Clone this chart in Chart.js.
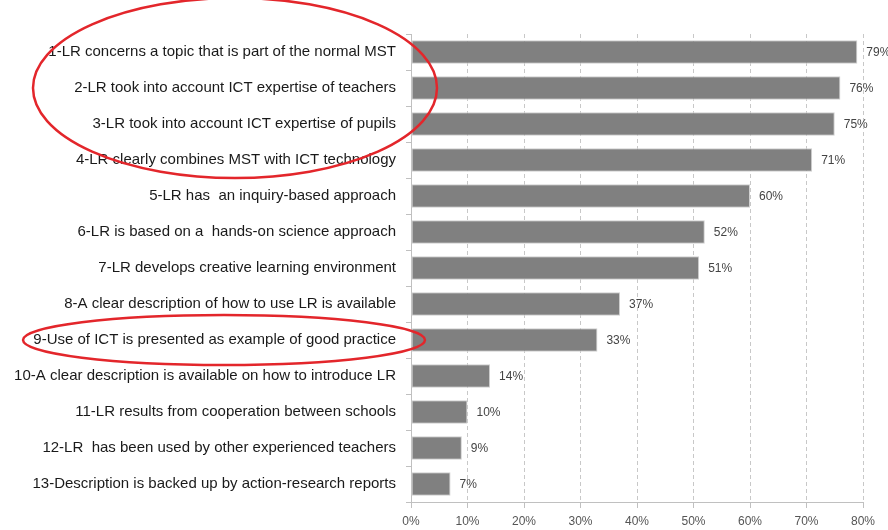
<!DOCTYPE html>
<html>
<head>
<meta charset="utf-8">
<script src="https://cdn.jsdelivr.net/npm/chart.js@4/dist/chart.umd.min.js"></script>
<style>
  body { margin: 0; background: #fff; }
  #wrap { width: 888px; height: 530px; position: relative; }
</style>
</head>
<body>
<div id="wrap"><canvas id="criteriaChart"></canvas></div>
<script>
// criteria (labels) and share of learning resources meeting them
const categories = [
    '1-LR concerns a topic that is part of the normal MST',
    '2-LR took into account ICT expertise of teachers',
    '3-LR took into account ICT expertise of pupils',
    '4-LR clearly combines MST with ICT technology',
    '5-LR has  an inquiry-based approach',
    '6-LR is based on a  hands-on science approach',
    '7-LR develops creative learning environment',
    '8-A clear description of how to use LR is available',
    '9-Use of ICT is presented as example of good practice',
    '10-A clear description is available on how to introduce LR',
    '11-LR results from cooperation between schools',
    '12-LR  has been used by other experienced teachers',
    '13-Description is backed up by action-research reports'
];
const percentages = [79, 76, 75, 71, 60, 52, 51, 37, 33, 14, 10, 9, 7];
const axisMax = 80;
const axisStep = 10;
// rows circled in red on the original: [centre row, half height, shift left of axis, half width]
const circledRows = [[1, 90, 176, 202], [8, 25, 187, 201]];

// draws "79%" etc. right of each bar
const valueLabels = {
    id: 'valueLabels',
    afterDatasetsDraw(chart) {
        const ctx = chart.ctx;
        const meta = chart.getDatasetMeta(0);
        ctx.save();
        ctx.font = '12px "Liberation Sans", Arial, sans-serif';
        ctx.fillStyle = '#444';
        ctx.textAlign = 'left';
        ctx.textBaseline = 'middle';
        meta.data.forEach((bar, i) => {
            ctx.fillText(percentages[i] + '%', bar.x + 9, bar.y + 1);
        });
        ctx.restore();
    }
};

// red hand-drawn ellipses around the highlighted criteria
const redCircles = {
    id: 'redCircles',
    afterDraw(chart) {
        const ctx = chart.ctx;
        const y = chart.scales.y;
        const left = chart.chartArea.left;
        ctx.save();
        ctx.strokeStyle = '#e3262b';
        ctx.lineWidth = 2.5;
        circledRows.forEach(([row, ry, shift, rx]) => {
            ctx.beginPath();
            ctx.ellipse(left - shift, y.getPixelForValue(row), rx, ry, 0, 0, Math.PI * 2);
            ctx.stroke();
        });
        ctx.restore();
    }
};

const ctx = document.getElementById('criteriaChart').getContext('2d');
new Chart(ctx, {
    type: 'bar',
    data: {
        labels: categories,
        datasets: [{
            data: percentages,
            backgroundColor: '#808080',
            borderColor: '#d0d0d0',
            borderWidth: 1,
            borderSkipped: false,
            barPercentage: 0.65,
            categoryPercentage: 1
        }]
    },
    options: {
        indexAxis: 'y',
        responsive: true,
        maintainAspectRatio: false,
        animation: false,
        layout: { padding: { top: 34, right: 25, bottom: 0, left: 0 } },
        plugins: {
            legend: { display: false },
            tooltip: { enabled: false }
        },
        scales: {
            x: {
                min: 0,
                max: axisMax,
                ticks: {
                    stepSize: axisStep,
                    color: '#555',
                    font: { family: '"Liberation Sans", Arial, sans-serif', size: 12 },
                    padding: 6,
                    callback: v => v + '%'
                },
                grid: {
                    color: '#c8c8c8',
                    tickColor: '#c0c0c0',
                    tickLength: 6
                },
                border: { color: '#c0c0c0', dash: [4, 3] },
                afterFit(scale) { scale.height = 28; }
            },
            y: {
                ticks: {
                    autoSkip: false,
                    color: '#1a1a1a',
                    padding: 10,
                    font: { family: '"Liberation Sans", Arial, sans-serif', size: 15 }
                },
                grid: {
                    drawOnChartArea: false,
                    color: '#c0c0c0',
                    tickLength: 5
                },
                border: { color: '#c0c0c0' },
                afterFit(scale) { scale.width = 411; }
            }
        }
    },
    plugins: [valueLabels, redCircles]
});
</script>
</body>
</html>
